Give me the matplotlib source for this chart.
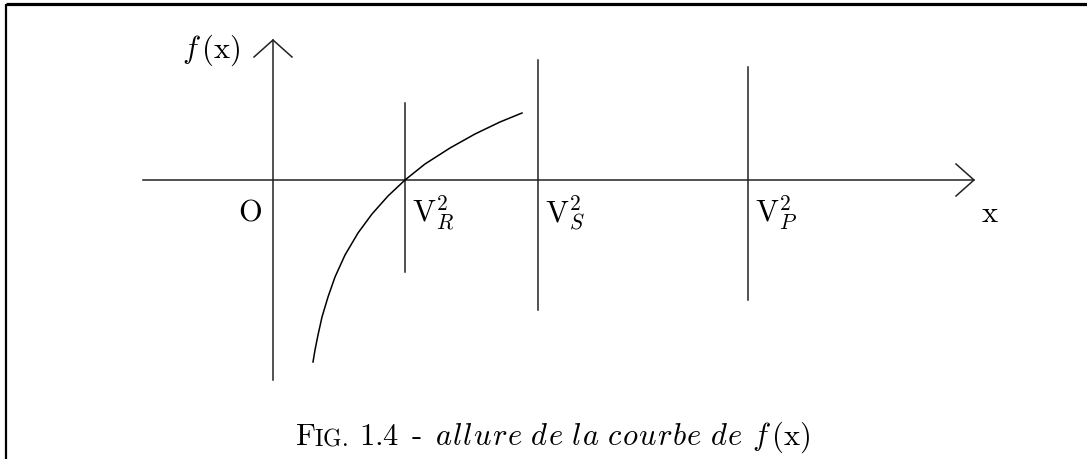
import numpy as np
import matplotlib
matplotlib.use('Agg')
import matplotlib.pyplot as plt

plt.rcParams['mathtext.fontset'] = 'cm'

# diagram geometry (pixel units, y downwards)
y_axis_x = 273
y_axis_span = (40, 380)
x_axis_y = 180
x_axis_span = (143, 974)

vline_x = [405, 538, 748]
vline_top = [103, 60, 67]
vline_bottom = [272, 310, 300]
vline_labels = [r'$\mathrm{V}_R^2$', r'$\mathrm{V}_S^2$', r'$\mathrm{V}_P^2$']

# curve f(x), points
curve_x = [313, 315, 318, 322, 328, 335, 345, 358, 372, 388, 405, 425, 450, 475, 500, 522]
curve_y = [362, 350, 335, 317, 297, 277, 255, 233, 214, 196, 180, 164, 148, 134, 122, 113]

caption_words = ['allure', 'de', 'la', 'courbe', 'de']

fig = plt.figure(figsize=(10.87, 4.59), dpi=100)
ax = fig.add_axes([0, 0, 1, 1])
ax.set_xlim(0, 1087)
ax.set_ylim(459, 0)
ax.axis('off')

lc = '#222222'
lw = 1.1
fs = 22

# frame (top and left only)
ax.plot([5.5, 1087], [4, 4], color='black', lw=2.3, solid_capstyle='butt')
ax.plot([5.5, 5.5], [4, 459], color='black', lw=1.6, solid_capstyle='butt')

# axes
ax.plot([y_axis_x, y_axis_x], y_axis_span, color=lc, lw=lw)
ax.plot([y_axis_x - 19, y_axis_x, y_axis_x + 19], [57, 40, 57], color=lc, lw=lw)
ax.plot(x_axis_span, [x_axis_y, x_axis_y], color=lc, lw=lw)
ax.plot([956, 974, 956], [164, 180, 196], color=lc, lw=lw)

for xv, t, b, lab in zip(vline_x, vline_top, vline_bottom, vline_labels):
    ax.plot([xv, xv], [t, b], color=lc, lw=lw)
    ax.text(xv + 7, 213, lab, fontsize=fs, ha='left', va='center')

ax.plot(curve_x, curve_y, color='black', lw=lw)

ax.text(250, 212, r'$\mathrm{O}$', fontsize=fs, ha='center', va='center')
ax.text(990, 214, r'$\mathrm{x}$', fontsize=fs, ha='center', va='center')
ax.text(211, 50, r'$f\,(\mathrm{x})$', fontsize=fs, ha='center', va='center')

# caption
cy = 445
ax.text(295, cy, r'$\mathrm{F}$', fontsize=fs, ha='left', va='baseline')
ax.text(314, cy, r'$\mathrm{IG.}$', fontsize=17, ha='left', va='baseline')
ax.text(359, cy, r'$\mathrm{1.4}$', fontsize=fs, ha='left', va='baseline')
ax.text(412, cy, '-', fontsize=fs, family='cmr10', ha='left', va='baseline')
phrase = r'\hspace{0.35}'.join(r'\hspace{0.05}'.join(w) for w in caption_words)
ax.text(435, cy, r'$\mathit{' + phrase + '}$', fontsize=fs, ha='left', va='baseline')
ax.text(752, cy, r'$f\,(\mathrm{x})$', fontsize=fs, ha='left', va='baseline')

fig.savefig('out.png', dpi=100)
